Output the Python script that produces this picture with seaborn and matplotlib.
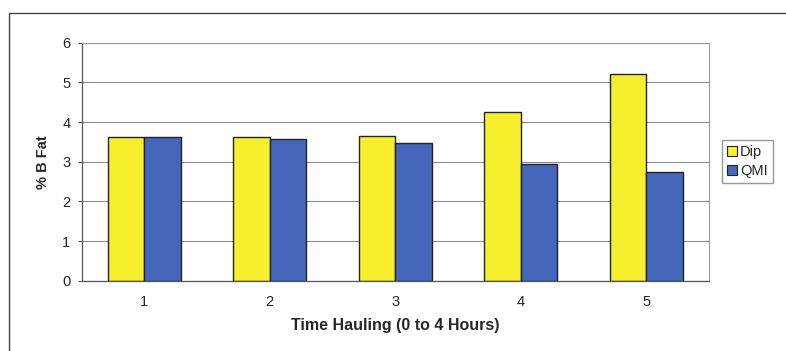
import pandas as pd
import matplotlib.pyplot as plt
import seaborn as sns
from matplotlib.lines import Line2D
from matplotlib.patches import Patch

sns.set_theme(style="white")
plt.rcParams['font.family'] = ['Liberation Sans', 'DejaVu Sans']

# ------------------------------------------------
# DATA
# ------------------------------------------------
hours = ["1", "2", "3", "4", "5"]
dip = [3.62, 3.63, 3.66, 4.26, 5.22]
qmi = [3.62, 3.58, 3.47, 2.93, 2.73]
series = ["Dip", "QMI"]
colors = ["#F7EF2E", "#4467BB"]

df = pd.DataFrame({
    "hour": hours * 2,
    "fat": dip + qmi,
    "series": [series[0]] * len(hours) + [series[1]] * len(hours),
})

# ------------------------------------------------
# PLOT
# ------------------------------------------------
W, H = 786, 351
fig = plt.figure(figsize=(W / 100, H / 100), dpi=100)
ax = fig.add_axes([81.5 / W, (H - 280.7) / H, (709 - 81.5) / W, (280.7 - 42.7) / H])

sns.barplot(data=df, x="hour", y="fat", hue="series", palette=colors,
            saturation=1, width=0.58, gap=0, edgecolor="#222222", linewidth=1.0,
            ax=ax, legend=False, errorbar=None)

ax.set_ylim(0, 6)
ax.set_xlim(-0.5, 4.5)
ax.set_yticks(range(0, 7))
ax.yaxis.grid(True, color="#8c8a98", linewidth=0.8)
ax.set_axisbelow(True)

# category labels centred, tick marks between categories
ax.set_xticks(range(5))
ax.set_xticklabels(hours)
ax.set_xticks([i - 0.5 for i in range(6)], minor=True)
ax.tick_params(axis="x", which="major", length=0, labelsize=10.5, pad=10)
ax.tick_params(axis="x", which="minor", length=3, width=0.8, color="#555555", direction="out")
ax.tick_params(axis="y", length=3, width=0.8, color="#555555", direction="out",
               labelsize=10.5, left=True, pad=5)

for side in ["top", "right"]:
    ax.spines[side].set_color("#9a9a9a")
    ax.spines[side].set_linewidth(0.8)
for side in ["left", "bottom"]:
    ax.spines[side].set_color("#555555")
    ax.spines[side].set_linewidth(0.9)

ax.set_xlabel("Time Hauling (0 to 4 Hours)", fontsize=11.5, fontweight="bold", labelpad=7)
ax.set_ylabel("% B Fat", fontsize=10.5, fontweight="bold", labelpad=9)

# legend
handles = [Patch(facecolor=c, edgecolor="#222222", linewidth=0.8) for c in colors]
fig.legend(handles, series, loc="lower left",
           bbox_to_anchor=(722 / W, 1 - 183 / H),
           frameon=True, fancybox=False, framealpha=1, edgecolor="#9a9a9a",
           fontsize=10.5, handlelength=0.7, handleheight=0.7, handletextpad=0.2,
           borderpad=0.35, labelspacing=0.35, borderaxespad=0)

# outer chart frame
fig.add_artist(Line2D([9 / W, 1], [1 - 13 / H, 1 - 13 / H], color="#444444", linewidth=1.0))
fig.add_artist(Line2D([9 / W, 9 / W], [0, 1 - 13 / H], color="#444444", linewidth=1.0))

fig.savefig("out.png", dpi=100)
